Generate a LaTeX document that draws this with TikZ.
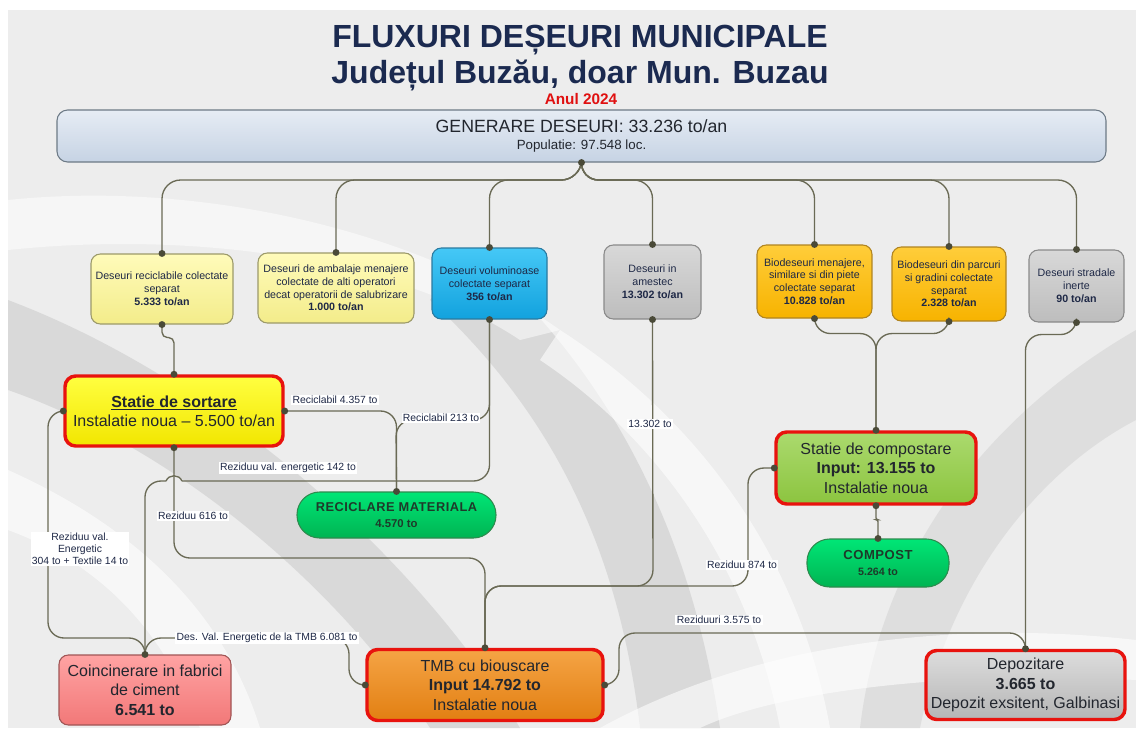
\documentclass[tikz,border=0pt]{standalone}
\usepackage{fontspec}
\setmainfont{Liberation Sans}
\newfontfamily\spacedfont{Liberation Sans}[LetterSpace=4.0]
\definecolor{navy}{HTML}{1B2A50}
\definecolor{txt}{HTML}{1E2846}
\definecolor{darktxt}{HTML}{22262E}
\definecolor{conn}{HTML}{6A6A55}
\definecolor{dotc}{HTML}{4A4A38}
\definecolor{panel}{HTML}{EDEDED}
\definecolor{band}{HTML}{D5D5D5}
\definecolor{redb}{HTML}{E8130E}
\definecolor{anulred}{HTML}{E01010}
\definecolor{genT}{HTML}{E6ECF4}
\definecolor{genB}{HTML}{C6D3E4}
\definecolor{genD}{HTML}{6D7A86}
\definecolor{pyT}{HTML}{FFFBBA}
\definecolor{pyB}{HTML}{F3EC8A}
\definecolor{pyD}{HTML}{9C9A6A}
\definecolor{blT}{HTML}{45C8F6}
\definecolor{blB}{HTML}{12A2DE}
\definecolor{blD}{HTML}{2A7AA0}
\definecolor{grT}{HTML}{D8D8D8}
\definecolor{grB}{HTML}{BDBDBD}
\definecolor{grD}{HTML}{8A8A8A}
\definecolor{orT}{HTML}{FFCD3A}
\definecolor{orB}{HTML}{F7B300}
\definecolor{orD}{HTML}{B08420}
\definecolor{syT}{HTML}{FFFF40}
\definecolor{syB}{HTML}{F2E600}
\definecolor{cgT}{HTML}{ABDA6E}
\definecolor{cgB}{HTML}{8CC43F}
\definecolor{tmT}{HTML}{F5A445}
\definecolor{tmB}{HTML}{E27F12}
\definecolor{dpT}{HTML}{DDDDDD}
\definecolor{dpB}{HTML}{B5B5B5}
\definecolor{pkT}{HTML}{FFA3A3}
\definecolor{pkB}{HTML}{F27878}
\definecolor{pkD}{HTML}{A05555}
\definecolor{gnT}{HTML}{00E676}
\definecolor{gnB}{HTML}{00B452}
\definecolor{gnD}{HTML}{2E8B4E}
\definecolor{gntxt}{HTML}{1E3A2A}
\begin{document}
\begin{tikzpicture}[x=0.75pt,y=-0.75pt,
  wh/.style 2 args={minimum width=#1*0.75pt, minimum height=#2*0.75pt, inner sep=0pt, align=center},
  small/.style={font=\fontsize{8}{9.6}\selectfont, text=txt},
  big/.style={font=\fontsize{12}{14.5}\selectfont, text=darktxt},
  box/.style={draw, line width=0.8pt, rounded corners=7pt},
  paleyel/.style={box, draw=pyD, top color=pyT, bottom color=pyB},
  bluebox/.style={box, draw=blD, top color=blT, bottom color=blB},
  graybox/.style={box, draw=grD, top color=grT, bottom color=grB},
  orbox/.style={box, draw=orD, top color=orT, bottom color=orB},
  redbox/.style={draw=redb, line width=2.6pt, rounded corners=8pt},
  pill/.style={draw=gnD, line width=0.8pt, rounded corners=17pt, top color=gnT, bottom color=gnB, text=gntxt},
  conn/.style={draw=conn, line width=1pt, rounded corners=12pt},
  lab/.style={fill=white, inner sep=1pt, font=\fontsize{7.8}{9}\selectfont, text=txt, align=center},
]
\useasboundingbox (0,0) rectangle (1136,733);
\fill[white] (0,0) rectangle (1136,733);
\fill[panel] (8,10) rectangle (1136,728);
% background swooshes
\fill[band, opacity=0.8] (8,300) .. controls (220,380) and (420,560) .. (520,728) -- (430,728) .. controls (340,590) and (180,450) .. (8,390) -- cycle;
\fill[band, opacity=0.8] (470,250) .. controls (600,360) and (690,520) .. (720,728) -- (640,728) .. controls (620,560) and (560,420) .. (430,300) -- cycle;
\fill[band, opacity=0.6] (1136,330) .. controls (980,420) and (880,560) .. (860,728) -- (920,728) .. controls (950,580) and (1040,470) .. (1136,420) -- cycle;
\fill[white, opacity=0.6] (600,728) .. controls (760,640) and (960,620) .. (1136,640) -- (1136,680) .. controls (960,670) and (780,690) .. (700,728) -- cycle;
\fill[white, opacity=0.5] (8,200) .. controls (200,180) and (420,230) .. (560,330) -- (520,340) .. controls (400,260) and (200,230) .. (8,250) -- cycle;
\fill[white, opacity=0.6] (8,470) .. controls (120,520) and (220,600) .. (260,728) -- (200,728) .. controls (160,620) and (90,560) .. (8,530) -- cycle;
\fill[white, opacity=0.6] (560,330) .. controls (700,420) and (800,560) .. (830,728) -- (780,728) .. controls (750,570) and (660,440) .. (540,360) -- cycle;

% titles
\node[font=\fontsize{24}{28}\selectfont\bfseries, text=navy] (t1) at (580,40) {FLUXURI DEȘEURI MUNICIPALE};
\node[font=\fontsize{24}{28}\selectfont\bfseries, text=navy] (t2) at (580,75) {Județul Buzău, doar Mun. Buzau};
\node[font=\fontsize{11.5}{13}\selectfont\bfseries, text=anulred] (t3) at (581,99) {Anul 2024};

% generation box
\node[wh={1049}{52}, box, draw=genD, top color=genT, bottom color=genB, rounded corners=8pt, text=darktxt] (gen) at (581.5,136)
  {{\fontsize{13.3}{16}\selectfont GENERARE DESEURI: 33.236 to/an}\\[1pt]{\fontsize{10}{12}\selectfont Populatie: 97.548 loc.}};

% source boxes
\node[wh={142}{70}, paleyel, small] (b1) at (162,289) {Deseuri reciclabile colectate\\separat\\\textbf{5.333 to/an}};
\node[wh={156}{70}, paleyel, small] (b2) at (336,288) {Deseuri de ambalaje menajere\\colectate de alti operatori\\decat operatorii de salubrizare\\\textbf{1.000 to/an}};
\node[wh={115}{71}, bluebox, small] (b3) at (489.5,283.5) {Deseuri voluminoase\\colectate separat\\\textbf{356 to/an}};
\node[wh={97}{74}, graybox, small] (b4) at (652.5,282) {Deseuri in\\amestec\\\textbf{13.302 to/an}};
\node[wh={115}{73}, orbox, small] (b5) at (814.5,281.5) {Biodeseuri menajere,\\similare si din piete\\colectate separat\\\textbf{10.828 to/an}};
\node[wh={114}{74}, orbox, small] (b6) at (949,284) {Biodeseuri din parcuri\\si gradini colectate\\separat\\\textbf{2.328 to/an}};
\node[wh={95}{72}, graybox, small] (b7) at (1076.5,286) {Deseuri stradale\\inerte\\\textbf{90 to/an}};

% processing boxes
\node[wh={218}{70}, redbox, top color=syT, bottom color=syB, big] (sort) at (174,411)
  {\textbf{\underline{Statie de sortare}}\\Instalatie noua -- 5.500 to/an};
\node[wh={199}{46}, pill] (recic) at (396.5,515)
  {{\spacedfont\fontsize{9.6}{11.5}\selectfont\bfseries RECICLARE MATERIALA}\\{\fontsize{8.5}{10}\selectfont\bfseries 4.570 to}};
\node[wh={200}{72}, redbox, top color=cgT, bottom color=cgB, big] (comp) at (876,468)
  {Statie de compostare\\\textbf{Input: 13.155 to}\\Instalatie noua};
\node[wh={142}{48}, pill] (compost) at (878,563)
  {{\spacedfont\fontsize{9.8}{11.5}\selectfont\bfseries COMPOST}\\{\fontsize{8}{10}\selectfont\bfseries 5.264 to}};
\node[wh={172}{70}, box, draw=pkD, top color=pkT, bottom color=pkB, big] (coinc) at (145,690)
  {Coincinerare in fabrici\\de ciment\\\textbf{6.541 to}};
\node[wh={236}{71}, redbox, top color=tmT, bottom color=tmB, big] (tmb) at (485,685)
  {TMB cu biouscare\\\textbf{Input 14.792 to}\\Instalatie noua};
\node[wh={199}{69}, redbox, top color=dpT, bottom color=dpB, big] (depo) at (1025.5,685)
  {Depozitare\\\textbf{3.665 to}\\Depozit exsitent, Galbinasi};

% bus coordinates
\coordinate (bus) at (580,180);
% connectors from generation
\foreach \b in {b1,b2,b3,b4,b5,b6,b7}{
  \draw[conn, rounded corners=14pt] (gen.south) -- (bus) -| (\b.north);
}
% box1 -> sortare
\draw[conn, rounded corners=4pt] (b1.south) -- ++(0,13) -| (sort.north);
% sortare -> reciclare
\draw[conn] (sort.east) -| (recic.north);
% voluminoase -> reciclare
\coordinate (r213) at (396,420);
\draw[conn] (b3.south) |- (r213) -- (recic.north);
% voluminoase -> coincinerare (with hop over sortare line)
\coordinate (hopR) at (182,481);
\coordinate (hopL) at (166,481);
\draw[conn] (b3.south) |- (hopR);
\draw[conn, rounded corners=0pt] (hopR) .. controls (179,474) and (169,474) .. (hopL);
\draw[conn] (hopL) -| (coinc.north);
% sortare bottom -> TMB
\coordinate (r616) at (174,558);
\draw[conn] (sort.south) -- (r616) -| (tmb.north);
% sortare west -> coincinerare
\coordinate (l304) at (48,638);
\draw[conn] (sort.west) -| (l304) -| (coinc.north);
% TMB west -> coincinerare
\coordinate (d6081) at (349,638);
\draw[conn] (tmb.west) -| (d6081) -| (coinc.north);
% TMB east -> depozitare
\coordinate (r3575) at (619,633);
\draw[conn] (tmb.east) -| (r3575) -| (depo.north);
% stradale -> depozitare
\draw[conn] (b7.south) -- ++(0,12) -| (depo.north);
% amestec -> TMB
\coordinate (a13302) at (653,586);
\draw[conn] (b4.south) -- (a13302) -| (tmb.north);
% compostare -> TMB
\coordinate (c874) at (748,586);
\draw[conn] (comp.west) -| (c874) -| (tmb.north);
% biodeseuri -> compostare
\draw[conn] (b5.south) -- ++(0,15) -| (comp.north);
\draw[conn] (b6.south) -- ++(0,12) -| (comp.north);
% compostare -> compost
\draw[conn, rounded corners=1.5pt] (comp.south) -- ++(0,14) -| (compost.north);

% dots
\foreach \a in {gen.south,b1.north,b2.north,b3.north,b4.north,b5.north,b6.north,b7.north,
  b1.south,b3.south,b4.south,b5.south,b6.south,b7.south,
  sort.north,sort.south,sort.east,sort.west,recic.north,
  comp.north,comp.west,comp.south,compost.north,
  coinc.north,tmb.north,tmb.west,tmb.east,depo.north}{
  \fill[dotc] (\a) circle (2.6pt);
}

% labels
\node[lab] (l1) at (335,400) {Reciclabil 4.357 to};
\node[lab] (l2) at (441,418) {Reciclabil 213 to};
\node[lab] (l3) at (288,468) {Reziduu val. energetic 142 to};
\node[lab] (l4) at (193,516) {Reziduu 616 to};
\node[lab] (l5) at (80,549) {Reziduu val.\\Energetic\\304 to + Textile 14 to};
\node[lab, anchor=west] (l6) at (175,638) {Des. Val. Energetic de la TMB 6.081 to};
\node[lab] (l7) at (719,620) {Reziduuri 3.575 to};
\node[lab] (l8) at (650,424) {13.302 to};
\node[lab] (l9) at (742,565) {Reziduu 874 to};
\end{tikzpicture}
\end{document}
